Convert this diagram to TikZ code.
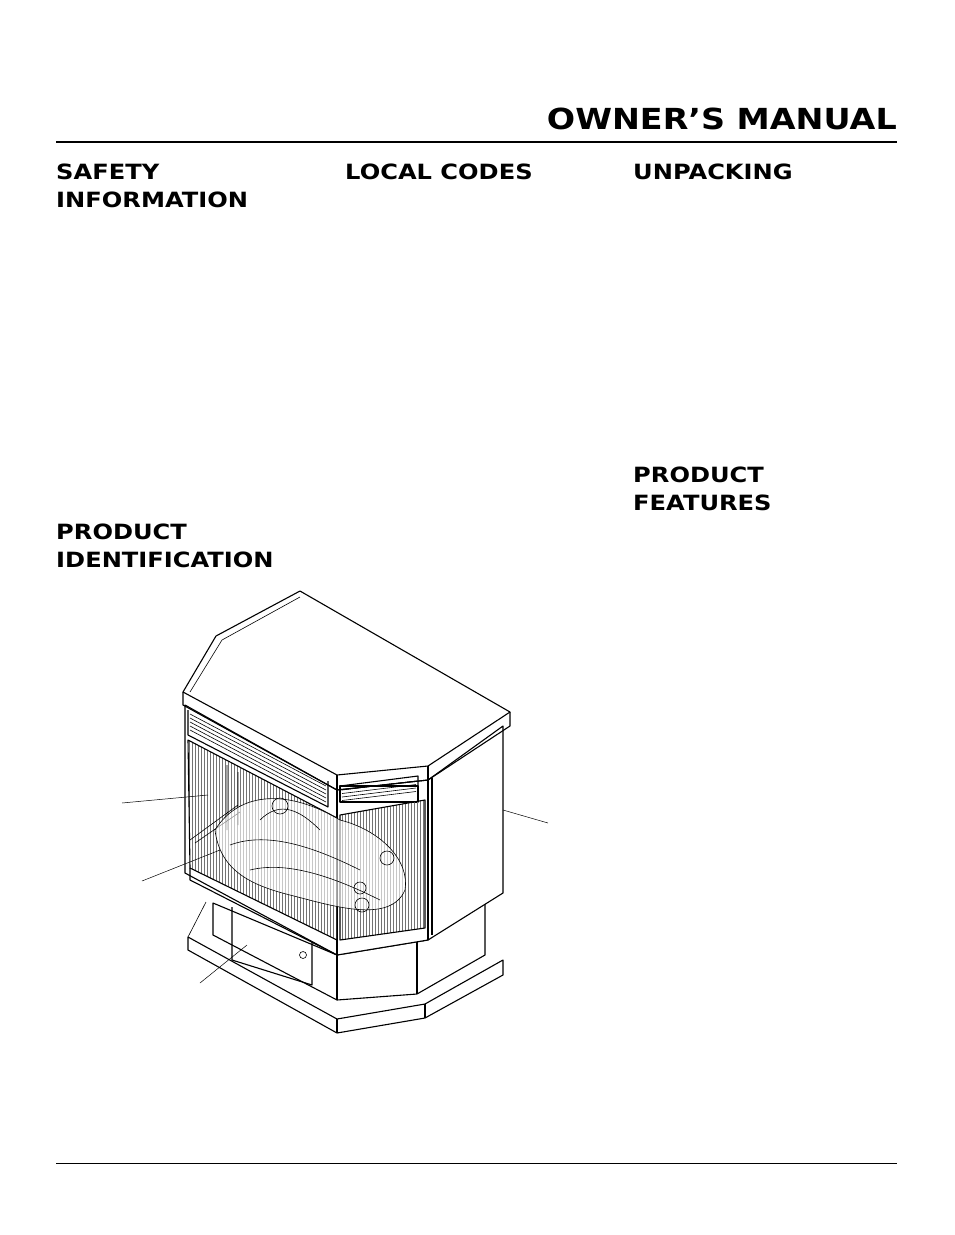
\documentclass[tikz,border=0pt]{standalone}
\usepackage{fontspec}
\setmainfont{DejaVu Sans}
\usetikzlibrary{patterns}
\tikzset{
 head/.style={anchor=north west,align=left,font=\fontsize{21}{28}\selectfont\bfseries,inner sep=0pt,xscale=1.15},
 ln/.style={line width=1.1pt,line join=round},
 thin/.style={line width=0.6pt},
 glass/.style={pattern=vertical lines,pattern color=black!55},
 lead/.style={line width=0.5pt}
}
\begin{document}
\begin{tikzpicture}[x=1pt,y=-1pt]
\useasboundingbox (0,0) rectangle (954,1235);
\node[anchor=south east,inner sep=0pt,xscale=1.15,font=\fontsize{29}{29}\selectfont\bfseries] (title) at (897,130) {OWNER’S MANUAL};
\draw[line width=1.5pt] (56,142) -- (897,142);
\draw[line width=0.8pt] (56,1163) -- (897,1163);
\node[head] (h1) at (56,164) {SAFETY\\INFORMATION};
\node[head] (h2) at (345,164) {LOCAL CODES};
\node[head] (h3) at (633,164) {UNPACKING};
\node[head] (h4) at (633,467) {PRODUCT\\FEATURES};
\node[head] (h5) at (56,524) {PRODUCT\\IDENTIFICATION};
% plinth
\draw[ln,fill=white] (188,937) -- (188,950) -- (337,1033) -- (425,1018) -- (503,975) -- (503,960) -- (425,1004) -- (337,1019) -- cycle;
\draw[ln] (337,1019) -- (337,1033) (425,1004) -- (425,1018);
% pedestal
\draw[ln,fill=white] (213,903) -- (213,935) -- (337,1000) -- (417,994) -- (485,955) -- (485,893) -- (428,940) -- (337,955) -- cycle;
\draw[ln] (337,955) -- (337,1000) (417,940) -- (417,994);
\draw[thin] (206,902) -- (188,937);
\draw[ln] (232,907) -- (232,960) -- (312,985) -- (312,940);
\draw[thin] (303,955) circle (3.5);
% body
\draw[ln,fill=white] (185,705) -- (185,873) -- (337,955) -- (428,940) -- (503,893) -- (503,726) -- (428,780) -- (337,790) -- cycle;
\draw[ln] (337,790) -- (337,955) (428,780) -- (428,940) (432,778) -- (432,935);
% louvers left
\draw[ln] (188,710) -- (188,735) -- (328,807) -- (328,781);
\foreach \i in {0,...,4}{\draw[thin] (190,714+4*\i) -- (326,786+4*\i);}
% louvers right
\draw[ln] (340,786) rectangle (418,802);
\draw[ln] (340,786) -- (418,776) -- (418,800);
\foreach \i in {0,...,3}{\draw[thin] (342,790+3.5*\i) -- (416,781+3.5*\i);}
% glass
\draw[ln,glass] (188,740) -- (337,818) -- (337,940) -- (190,868) -- cycle;
\draw[ln] (190,868) -- (190,880) -- (337,955);
\draw[ln,glass] (340,815) -- (425,800) -- (425,928) -- (340,940) -- cycle;
\draw[thin] (227,765) -- (227,830) (238,772) -- (238,825) (190,840) -- (238,805) (195,843)--(240,812);
% logs
\draw[thin,fill=white,fill opacity=0.6] (215,830) .. controls (240,790) and (290,790) .. (340,820) .. controls (380,830) and (410,860) .. (405,890) .. controls (390,925) and (330,905) .. (290,895) .. controls (250,885) and (220,870) .. cycle;
\draw[thin] (230,845) .. controls (270,830) and (320,850) .. (360,870);
\draw[thin] (250,870) .. controls (290,860) and (340,880) .. (380,900);
\draw[thin] (260,820) .. controls (280,800) and (300,810) .. (320,830);
\draw[thin] (280,806) circle (8) (360,888) circle (6) (387,858) circle (7);
\draw[thin] (362,905) circle (7);
% top slab
\draw[ln,fill=white] (300,591) -- (216,636) -- (183,692) -- (337,775) -- (428,766) -- (510,712) -- cycle;
\draw[ln] (183,692) -- (183,705) -- (337,790) -- (428,780) -- (510,726) -- (510,712);
\draw[ln] (337,775) -- (337,790) (428,766) -- (428,780);
\draw[thin] (222,640) -- (300,597) (222,640) -- (190,692);
% leaders
\draw[lead] (122,803) -- (208,795);
\draw[lead] (142,881) -- (220,850);
\draw[lead] (200,983) -- (247,945);
\draw[lead] (503,810) -- (548,823);
\end{tikzpicture}
\end{document}
